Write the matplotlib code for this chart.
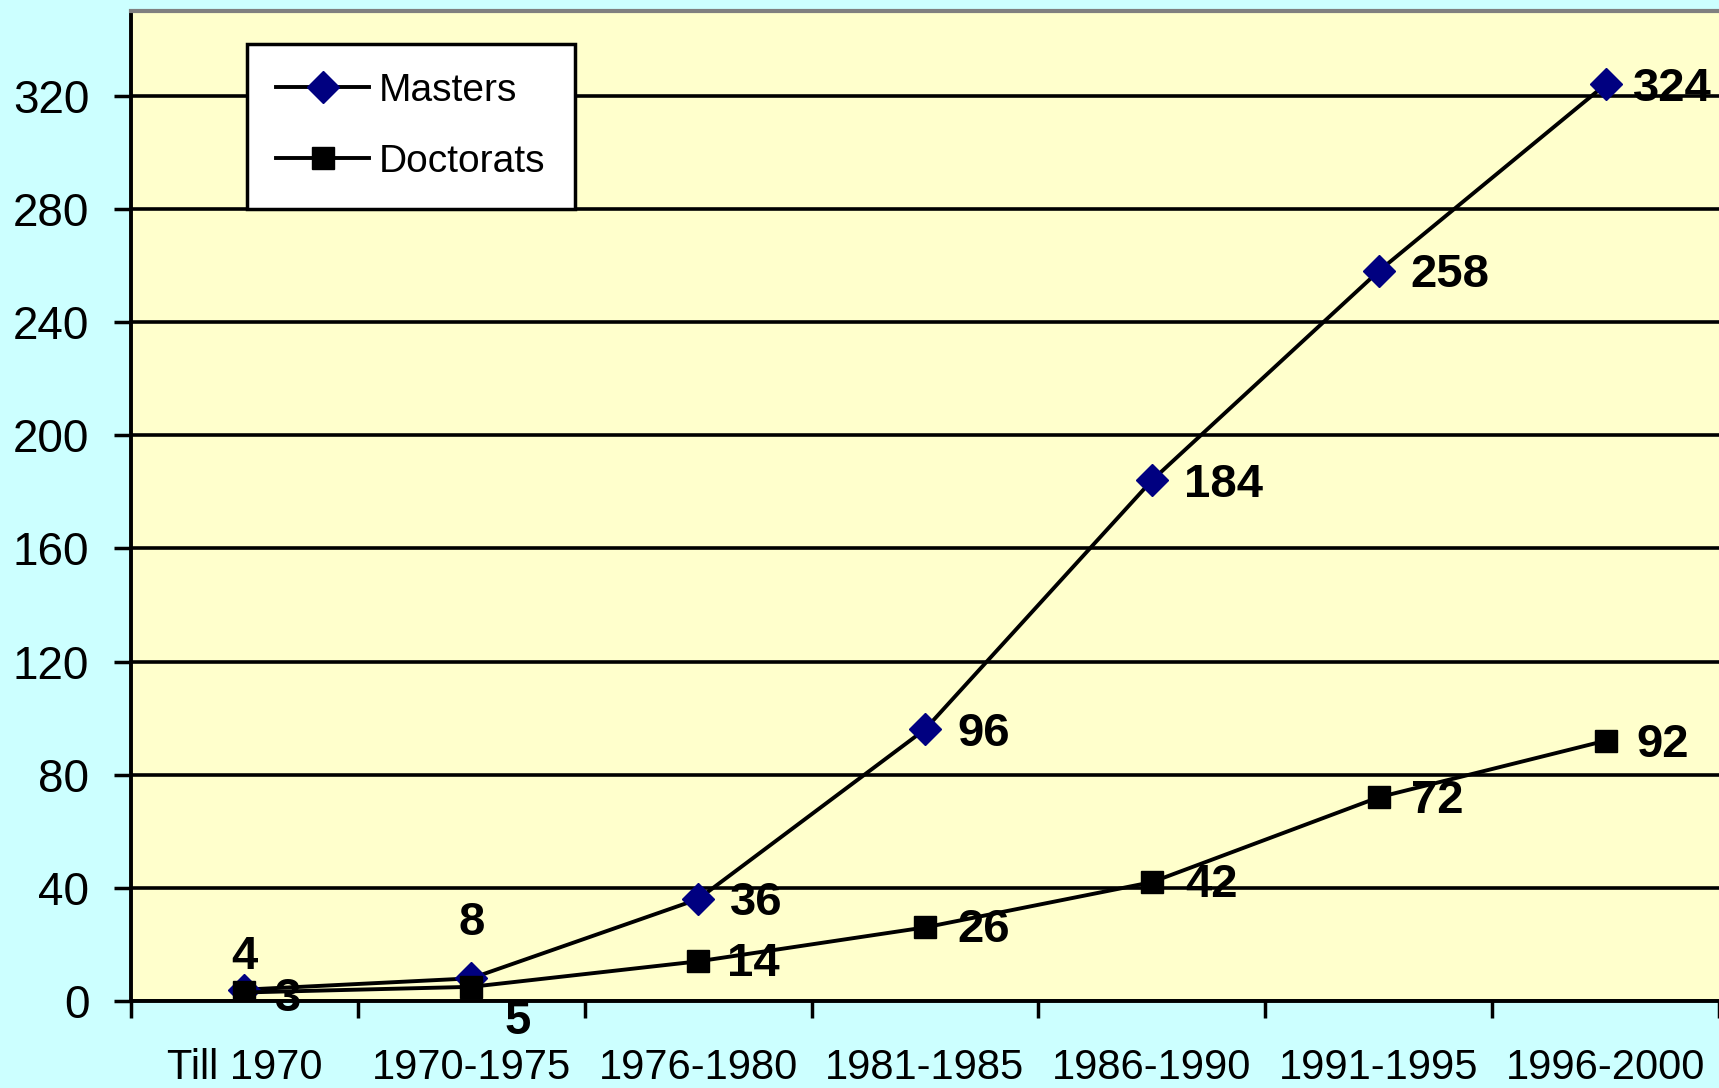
import matplotlib
matplotlib.use("Agg")
import matplotlib.pyplot as plt
from matplotlib import font_manager
import numpy as np

categories = ["Till 1970", "1970-1975", "1976-1980", "1981-1985", "1986-1990", "1991-1995", "1996-2000"]
masters = [4, 8, 36, 96, 184, 258, 324]
doctorats = [3, 5, 14, 26, 42, 72, 92]
yticks = [0, 40, 80, 120, 160, 200, 240, 280, 320]

names = {f.name for f in font_manager.fontManager.ttflist}
fam = "Liberation Sans Narrow" if "Liberation Sans Narrow" in names else "Liberation Sans"
plt.rcParams['font.family'] = [fam, 'DejaVu Sans']

fig = plt.figure(figsize=(17.19, 10.88), dpi=100)
fig.patch.set_facecolor('#CCFFFF')
ax = fig.add_axes([0.0762, 0.080, 1 - 0.0762, 0.910])
ax.set_facecolor('#FFFFCC')

x = np.arange(len(categories)) + 0.5
ax.plot(x, masters, color='black', lw=2.8, marker='D', markersize=16,
        markerfacecolor='#000080', markeredgecolor='#000080', label='Masters', zorder=3)
ax.plot(x, doctorats, color='black', lw=2.8, marker='s', markersize=16,
        markerfacecolor='black', markeredgecolor='black', label='Doctorats', zorder=3)

ax.set_xlim(0, len(categories))
ax.set_ylim(0, 350)
ax.set_yticks(yticks)
ax.set_yticklabels([str(v) for v in yticks], fontsize=33)
ax.yaxis.grid(True, color='black', lw=2.6)
ax.set_axisbelow(True)

ax.set_xticks(np.arange(len(categories) + 1))
ax.set_xticklabels([])
ax.set_xticks(x, minor=True)
ax.set_xticklabels(categories, minor=True, fontsize=30)
ax.tick_params(axis='x', which='minor', length=0, pad=34)
ax.tick_params(axis='x', which='major', length=12, width=2.5, direction='out')
ax.tick_params(axis='y', length=12, width=2.5, direction='out', pad=18)

for s in ['left', 'bottom']:
    ax.spines[s].set_linewidth(2.8)
    ax.spines[s].set_color('black')
ax.spines['top'].set_color('#808080')
ax.spines['top'].set_linewidth(3)
ax.spines['right'].set_visible(False)

lab = dict(fontsize=34, fontweight='bold', color='black', zorder=4)
m_off = [(0, 8, 'center', 'bottom'), (0, 24, 'center', 'bottom')] + [(23, -3, 'left', 'center')] * 4 \
        + [(20, -3, 'left', 'center')]
for xi, v, (dx, dy, ha, va) in zip(x, masters, m_off):
    ax.annotate(str(v), (xi, v), xytext=(dx, dy), textcoords='offset points', ha=ha, va=va, **lab)
d_off = [(22, -5, 'left', 'center'), (24, -25, 'left', 'center'), (21, -2, 'left', 'center'),
         (23, -2, 'left', 'center'), (24, -2, 'left', 'center'), (23, -3, 'left', 'center'),
         (22, -3, 'left', 'center')]
for xi, v, (dx, dy, ha, va) in zip(x, doctorats, d_off):
    ax.annotate(str(v), (xi, v), xytext=(dx, dy), textcoords='offset points', ha=ha, va=va, **lab)

leg = ax.legend(loc='upper left', bbox_to_anchor=(0.073, 0.967), fontsize=28, frameon=True,
                fancybox=False, edgecolor='black', framealpha=1, borderaxespad=0,
                handlelength=2.4, labelspacing=0.9, borderpad=0.75, handletextpad=0.25)
leg.get_frame().set_linewidth(2.5)

fig.savefig('out.png', dpi=100, facecolor=fig.get_facecolor())
